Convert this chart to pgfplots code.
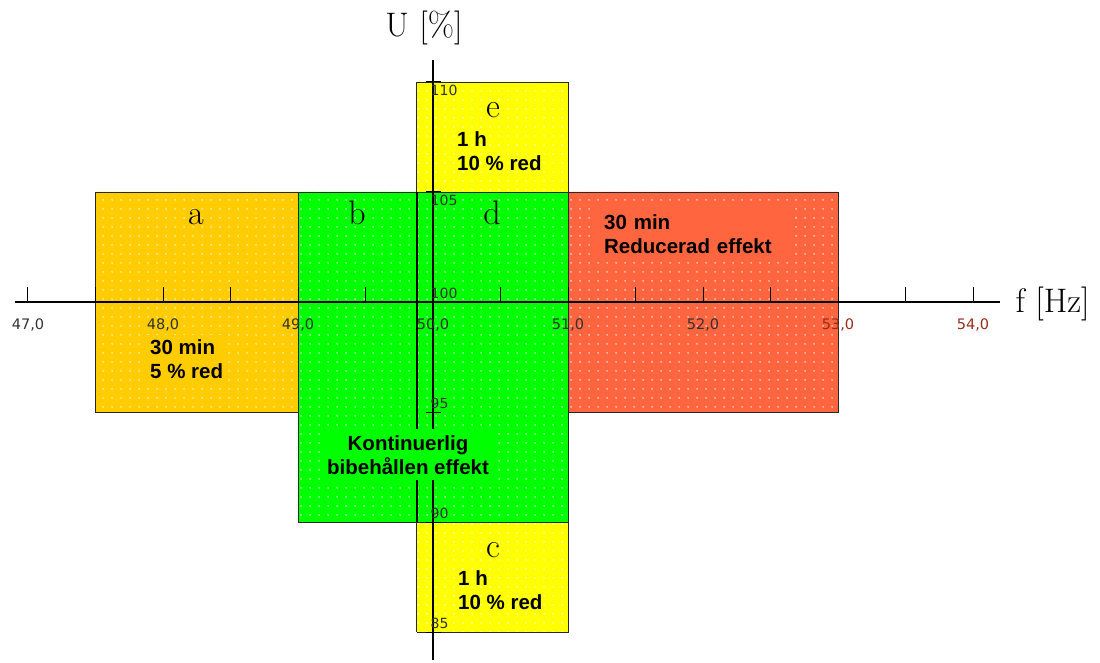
\documentclass[border=0pt]{standalone}
\usepackage{fontspec}
\usepackage{pgfplots}
\pgfplotsset{compat=1.18}
\usetikzlibrary{patterns.meta}
\newfontfamily\dejavu{DejaVu Sans}
\newfontfamily\lib{Liberation Sans}
\definecolor{cOr}{RGB}{255,204,0}
\definecolor{cGr}{RGB}{0,255,0}
\definecolor{cYe}{RGB}{255,255,0}
\definecolor{cRe}{RGB}{255,102,64}
\definecolor{edge}{RGB}{40,40,40}
\definecolor{tl}{RGB}{50,50,50}
\definecolor{tlr}{RGB}{150,45,25}
\tikzdeclarepattern{name=wdots, type=uncolored,
  bounding box={(0,0) and (9pt,9pt)}, tile size={(9pt,9pt)},
  code={\fill (4.5pt,4.5pt) circle (0.9pt);}}
\newcommand{\serifbig}{\fontsize{34}{38}\selectfont}
\newcommand{\sansb}{\lib\bfseries\fontsize{20.5}{24}\selectfont}
\begin{document}
\begin{tikzpicture}
\begin{axis}[
  x=135pt, y=22pt,
  x coord trafo/.code={\pgfmathparse{#1-50}},
  x coord inv trafo/.code={\pgfmathparse{#1+50}},
  y coord trafo/.code={\pgfmathparse{#1-100}},
  y coord inv trafo/.code={\pgfmathparse{#1+100}},
  xmin=46.904, xmax=54.2, ymin=83.727, ymax=111,
  axis lines=middle,
  axis line style={-, line width=1.1pt, black},
  set layers, axis on top,
  clip=false,
  hide obscured x ticks=false, hide obscured y ticks=false,
  xtick={47,48,49,50,51,52,53,54},
  xticklabels={{47,0},{48,0},{49,0},{50,0},{51,0},{52,0},{\textcolor{tlr}{53,0}},{\textcolor{tlr}{54,0}}},
  minor xtick={47.5,48.5,49.5,50.5,51.5,52.5,53.5},
  ytick={85,90,95,100}, yticklabels={85,90,95,100},
  extra y ticks={105,110}, extra y tick labels={105,110},
  extra y tick style={yticklabel style={anchor=north west, yshift=-6pt}},
  tick align=center, major tick length=15pt, minor tick length=15pt,
  every major x tick/.append style={yshift=7.5pt},
  every minor x tick/.append style={yshift=7.5pt},
  tick style={black, line width=1pt},
  xticklabel style={font=\dejavu\fontsize{14.5}{16}\selectfont, text=tl, anchor=north, inner sep=0pt, yshift=-9pt},
  yticklabel style={font=\dejavu\fontsize{14}{15}\selectfont, text=tl, anchor=south west, inner sep=0pt, xshift=5pt, yshift=3pt},
  xlabel={f [Hz]}, ylabel={U [\%]},
  every axis x label/.style={at={(current axis.right of origin)}, anchor=base west, xshift=12pt, yshift=-11pt, font=\fontsize{34}{36}\selectfont},
  every axis y label/.style={at={(current axis.above origin)}, anchor=base, xshift=-9pt, yshift=23pt, font=\fontsize{34}{36}\selectfont},
]
% a: orange
\addplot[draw=edge, line width=0.8pt, fill=cOr, postaction={pattern=wdots, pattern color=white}]
  coordinates {(47.5,95) (49,95) (49,105) (47.5,105) (47.5,95)};
% red
\addplot[draw=edge, line width=0.8pt, fill=cRe, postaction={pattern=wdots, pattern color=white}]
  coordinates {(51,95) (53,95) (53,105) (51,105) (51,95)};
% green b/d
\addplot[draw=edge, line width=0.8pt, fill=cGr, postaction={pattern=wdots, pattern color=white}]
  coordinates {(49,90) (51,90) (51,105) (49,105) (49,90)};
% e: yellow top
\addplot[draw=edge, line width=0.8pt, fill=cYe, postaction={pattern=wdots, pattern color=white}]
  coordinates {(49.88,105) (51,105) (51,110) (49.88,110) (49.88,105)};
% c: yellow bottom
\addplot[draw=edge, line width=0.8pt, fill=cYe, postaction={pattern=wdots, pattern color=white}]
  coordinates {(49.88,85) (51,85) (51,90) (49.88,90) (49.88,85)};
% thick line between b and d
\addplot[line width=2.6pt, black] coordinates {(49.88,90) (49.88,105)};

\coordinate (O) at (axis cs:50,100);

\begin{pgfonlayer}{axis foreground}
\node[font=\serifbig, anchor=base] at (axis cs:48.244,103.52) {a};
\node[font=\serifbig, anchor=base] at (axis cs:49.437,103.52) {b};
\node[font=\serifbig, anchor=base] at (axis cs:50.437,103.52) {d};
\node[font=\serifbig, anchor=base] at (axis cs:50.444,108.37) {e};
\node[font=\serifbig, anchor=base] at (axis cs:50.444,88.38) {c};

\node[font=\sansb, align=left, anchor=west, fill=cOr, inner sep=5pt] at (axis cs:47.867,97.38) {30 min\\5 \% red};
\node[font=\sansb, align=left, anchor=west, fill=cRe, inner xsep=11pt, inner ysep=8pt, text width=179pt] at (axis cs:51.185,103.1) {30 min\\Reducerad effekt};
\node[font=\sansb, align=center, fill=cGr, inner xsep=6pt, inner ysep=6pt] at (axis cs:49.815,93.05) {Kontinuerlig\\bibehållen effekt};
\node[font=\sansb, align=left, anchor=west, inner sep=0pt] at (axis cs:50.178,106.85) {1 h\\10 \% red};
\node[font=\sansb, align=left, anchor=west, inner sep=0pt] at (axis cs:50.185,86.89) {1 h\\10 \% red};
\end{pgfonlayer}
\end{axis}
\pgfresetboundingbox
\path[use as bounding box] ([shift={(-433pt,-360pt)}]O) rectangle ([shift={(667pt,302pt)}]O);
\end{tikzpicture}
\end{document}
